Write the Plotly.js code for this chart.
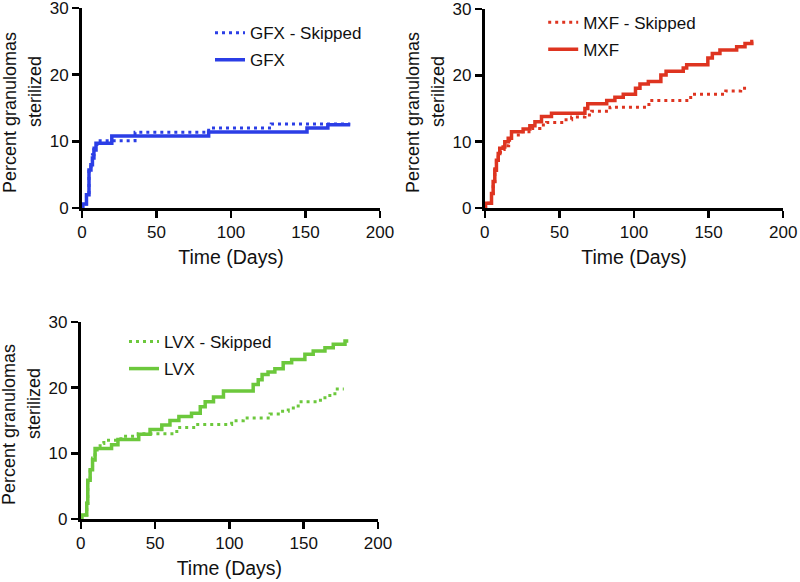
<!DOCTYPE html>
<html>
<head>
<meta charset="utf-8">
<script src="https://cdn.plot.ly/plotly-3.0.1.min.js"></script>
<style>html,body{margin:0;padding:0;background:#fff;}#chart{width:800px;height:582px;}</style>
</head>
<body>
<div id="chart"></div>
<script>
// ---- Data (days, percent granulomas sterilized) ----
var gfxSkippedDays = [0, 0.5, 3, 4.7, 6, 7, 8, 10, 11, 35.6, 85, 127, 180];
var gfxSkippedPct  = [0, 0.6, 2, 5.9, 7, 8, 9, 9.9, 10.1, 11.35, 12.0, 12.6, 12.6];
var gfxDays = [0, 0.5, 3, 4.7, 6, 7, 8, 9.4, 20, 85, 151, 165, 180];
var gfxPct  = [0, 0.6, 2, 5.7, 6.5, 7.5, 8.7, 9.7, 10.8, 11.4, 12.0, 12.5, 12.5];

var mxfSkippedDays = [0, 0.5, 4.5, 5.6, 6.7, 7.8, 9, 10.5, 13, 16, 17.9, 24.6, 31.3, 36.9, 41.4, 52.6, 58.2, 67.1, 71.6, 83.9, 110, 138, 161.5, 171.5, 177];
var mxfSkippedPct  = [0, 0.7, 2.2, 4, 5.9, 7.0, 8.0, 8.8, 9.4, 10.2, 11.0, 11.5, 12.0, 12.5, 12.9, 13.3, 13.7, 14.0, 14.6, 15.2, 16.2, 17.15, 17.65, 18.05, 18.05];
var mxfDays = [0, 0.5, 4.5, 5.6, 6.7, 7.8, 9, 10, 12.3, 13.4, 15.7, 17.9, 25.7, 30.2, 33.6, 38, 44.7, 67.1, 69, 81.7, 87.2, 92.8, 101, 104, 109.6, 118, 121.5, 133, 135.3, 149.5, 152.5, 157.6, 168.8, 174.4, 179, 180];
var mxfPct  = [0, 0.7, 2.2, 4, 5.7, 7.2, 8.2, 9.0, 9.2, 10.0, 10.5, 11.5, 11.9, 12.4, 13.0, 13.8, 14.3, 15.0, 15.7, 16.2, 16.7, 17.15, 18.05, 18.7, 19.05, 20.06, 20.6, 21.1, 21.6, 22.6, 23.3, 23.8, 24.3, 24.8, 25.1, 25.1];

var lvxSkippedDays = [0, 0.7, 4, 4.7, 6.3, 7.9, 9.6, 11, 13, 15.5, 27, 38.6, 64.6, 77.5, 101.5, 109.3, 127.3, 132.9, 139.6, 146.3, 159.8, 164.3, 171, 177];
var lvxSkippedPct  = [0, 0.6, 2.4, 6.2, 7.8, 9.3, 10.5, 11.0, 11.5, 12.0, 12.6, 13.0, 13.95, 14.4, 14.96, 15.4, 16.0, 16.4, 16.9, 17.85, 18.1, 18.8, 19.8, 19.8];
var lvxDays = [0, 0.7, 4, 4.7, 6.3, 7.9, 9.6, 20.7, 25, 39, 46.6, 54.5, 60, 66, 74.5, 80.4, 83.7, 89.3, 96, 116, 119.4, 122, 126, 130.6, 136.2, 141.9, 150.8, 156.4, 164.3, 169.9, 177.8, 180];
var lvxPct  = [0, 0.6, 2.4, 5.9, 7.5, 9.0, 10.75, 11.3, 12.1, 12.9, 13.65, 14.3, 15.0, 15.6, 16.1, 17.1, 17.85, 18.6, 19.5, 20.5, 21.2, 22.0, 22.4, 22.9, 23.8, 24.3, 25.1, 25.6, 26.1, 26.6, 27.1, 27.1];

var xTickVals = [0, 50, 100, 150, 200];
var yTickVals = [0, 10, 20, 30];
var xTitle = 'Time (Days)';
var yTitleLines = ['Percent granulomas', 'sterilized'];

// ---- Styles ----
var BLUE = '#2b3ee6', RED = '#de3420', GREEN = '#6cc83c';
var DOT = '3px,4px';
var FONT = 'Liberation Sans, Arial, Helvetica, sans-serif';

function tr(x, y, name, color, dotted, xa, ya, leg) {
  return {
    x: x, y: y, name: name, type: 'scatter', mode: 'lines',
    line: {shape: 'hv', color: color, width: dotted ? 3 : 3.5, dash: dotted ? DOT : 'solid'},
    xaxis: xa, yaxis: ya, legend: leg, legendgroup: name, hoverinfo: 'skip'
  };
}

var data = [
  tr(gfxSkippedDays, gfxSkippedPct, 'GFX - Skipped', BLUE, true, 'x', 'y', 'legend'),
  tr(gfxDays, gfxPct, 'GFX', BLUE, false, 'x', 'y', 'legend'),
  tr(mxfSkippedDays, mxfSkippedPct, 'MXF - Skipped', RED, true, 'x2', 'y2', 'legend2'),
  tr(mxfDays, mxfPct, 'MXF', RED, false, 'x2', 'y2', 'legend2'),
  tr(lvxSkippedDays, lvxSkippedPct, 'LVX - Skipped', GREEN, true, 'x3', 'y3', 'legend3'),
  tr(lvxDays, lvxPct, 'LVX', GREEN, false, 'x3', 'y3', 'legend3')
];

function xax(dom, anchor) {
  return {
    domain: dom, anchor: anchor, range: [0, 200], tickvals: xTickVals,
    showline: true, linewidth: 3, linecolor: '#000', ticks: 'outside', ticklen: 7, tickwidth: 2.5, tickcolor: '#000',
    showgrid: false, zeroline: false, tickfont: {size: 17, color: '#111', family: FONT}, ticklabeloverflow: 'allow',
    title: {text: xTitle, font: {size: 19.5, color: '#111', family: FONT}, standoff: 9},
    automargin: false
  };
}
function yax(dom, anchor) {
  return {
    domain: dom, anchor: anchor, range: [0, 30], tickvals: yTickVals,
    showline: true, linewidth: 3, linecolor: '#000', ticks: 'outside', ticklen: 7, tickwidth: 2.5, tickcolor: '#000',
    showgrid: false, zeroline: false, tickfont: {size: 17, color: '#111', family: FONT}, ticklabeloverflow: 'allow',
    automargin: false
  };
}
function leg(x, y) {
  return {x: x, y: y, xanchor: 'left', yanchor: 'top', bgcolor: 'rgba(0,0,0,0)',
          font: {size: 17, color: '#111', family: FONT}, tracegroupgap: 2};
}

// y-axis titles: two rotated lines per panel (second line sits a little higher, as in the source)
function ytitle(xPx, yPx, text) {
  return {xref: 'paper', yref: 'paper', x: xPx / 800, y: 1 - yPx / 582, text: text,
          textangle: -90, showarrow: false, xanchor: 'center', yanchor: 'middle',
          font: {size: 18, color: '#111', family: FONT}};
}
var annotations = [
  ytitle(10, 113, yTitleLines[0]), ytitle(35, 92, yTitleLines[1]),
  ytitle(413, 113, yTitleLines[0]), ytitle(438, 92, yTitleLines[1]),
  ytitle(9, 425, yTitleLines[0]), ytitle(34, 404, yTitleLines[1])
];

var layout = {
  width: 800, height: 582,
  margin: {l: 0, r: 0, t: 0, b: 0},
  paper_bgcolor: '#fff', plot_bgcolor: '#fff',
  font: {family: FONT, color: '#111'},
  showlegend: true,
  xaxis: xax([0.1025, 0.475], 'y'),
  yaxis: yax([0.6426, 0.9863], 'x'),
  xaxis2: xax([0.606, 0.979], 'y2'),
  yaxis2: yax([0.6426, 0.9846], 'x2'),
  xaxis3: xax([0.101, 0.4725], 'y3'),
  yaxis3: yax([0.1082, 0.4467], 'x3'),
  legend: leg(0.2625, 0.974),
  legend2: leg(0.679, 0.992),
  legend3: leg(0.155, 0.4434),
  annotations: annotations
};

Plotly.newPlot('chart', data, layout, {staticPlot: true, displayModeBar: false});
</script>
</body>
</html>
